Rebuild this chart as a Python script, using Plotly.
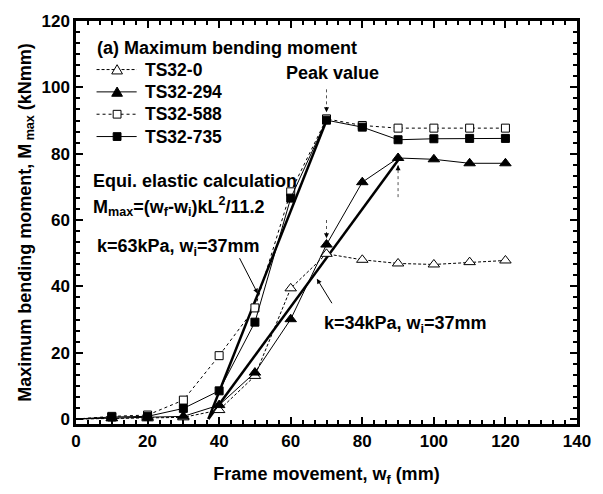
import plotly.graph_objects as go

# ---- data ----
frame_movement = [0, 10, 20, 30, 40, 50, 60, 70, 80, 90, 100, 110, 120]
ts32_0   = [0, 0.2, 0.2, 0.5, 2.7, 13.0, 39.4, 49.8, 48.0, 46.9, 46.6, 47.3, 47.8]
ts32_294 = [0, 0.3, 0.5, 0.8, 4.2, 14.0, 30.1, 52.6, 71.4, 78.7, 78.3, 77.1, 77.1]
ts32_588 = [0, 0.8, 1.2, 5.7, 19.1, 33.5, 68.5, 90.5, 88.5, 87.7, 87.7, 87.7, 87.7]
ts32_735 = [0, 0.6, 0.8, 3.2, 8.5, 29.2, 66.6, 90.1, 88.0, 84.2, 84.5, 84.6, 84.6]
series_names = ["TS32-0", "TS32-294", "TS32-588", "TS32-735"]

calc63_x = [37, 70]
calc63_y = [0, 90]
calc34_x = [37, 90]
calc34_y = [0, 78]

x_ticks = [0, 20, 40, 60, 80, 100, 120, 140]
y_ticks = [0, 20, 40, 60, 80, 100, 120]

FONT = "Liberation Sans, Arial, sans-serif"

# plot-area geometry in pixels (for placing text / legend)
L, R, T, B = 76, 588, 12, 427
W, H = 603, 494
def px(x):
    return (x - L) / (R - L)
def py(y):
    return (B - y) / (B - T)

# no marker drawn at the origin point (hidden behind the axis in the reference)
def sizes(s):
    return [0 if xv == 0 else s for xv in frame_movement]

fig = go.Figure()

fig.add_trace(go.Scatter(x=calc63_x, y=calc63_y, mode="lines",
                         line=dict(color="black", width=2.5), showlegend=False))
fig.add_trace(go.Scatter(x=calc34_x, y=calc34_y, mode="lines",
                         line=dict(color="black", width=2.5), showlegend=False))

styles = [
    dict(dash="3px,2px", symbol="triangle-up", fill="white", size=10),
    dict(dash="solid",   symbol="triangle-up", fill="black", size=10),
    dict(dash="dot",     symbol="square",      fill="white", size=8),
    dict(dash="solid",   symbol="square",      fill="black", size=8),
]
series = [ts32_0, ts32_294, ts32_588, ts32_735]
for name, yv, st in zip(series_names, series, styles):
    fig.add_trace(go.Scatter(x=frame_movement, y=yv, name=name, mode="lines+markers",
                             showlegend=False,
                             line=dict(color="black", width=1, dash=st["dash"]),
                             marker=dict(symbol=st["symbol"], size=sizes(st["size"]),
                                         opacity=1, color=st["fill"],
                                         line=dict(color="black", width=1))))

bold = dict(family=FONT, size=18, color="black", weight="bold")

# ---- hand-made legend (to match the tight row spacing) ----
rows = [62, 85, 108, 131]
for name, st, ry in zip(series_names, styles, rows):
    fig.add_shape(type="line", xref="paper", yref="paper",
                  x0=px(97), x1=px(138), y0=py(ry), y1=py(ry),
                  line=dict(color="black", width=1, dash=st["dash"]))
    cx = 118
    if st["symbol"] == "triangle-up":
        path = (f"M{px(cx-5.5)},{py(ry+4.5)} L{px(cx+5.5)},{py(ry+4.5)} "
                f"L{px(cx)},{py(ry-5)} Z")
        fig.add_shape(type="path", xref="paper", yref="paper", path=path,
                      fillcolor=st["fill"], line=dict(color="black", width=1))
    else:
        fig.add_shape(type="rect", xref="paper", yref="paper",
                      x0=px(cx-4), x1=px(cx+4), y0=py(ry+4), y1=py(ry-4),
                      fillcolor=st["fill"], line=dict(color="black", width=1))
    fig.add_annotation(xref="paper", yref="paper", x=px(144), y=py(ry), text=name,
                       xanchor="left", yanchor="middle", showarrow=False,
                       font=dict(family=FONT, size=17.5, color="black", weight="bold"))

annos = [
    dict(x=px(95), y=py(40), text="(a) Maximum bending moment"),
    dict(x=px(91), y=py(177), text="Equi. elastic calculation"),
    dict(x=px(91), y=py(203), text="M<sub>max</sub>=(w<sub>f</sub>-w<sub>i</sub>)kL<sup>2</sup>/11.2"),
    dict(x=px(95), y=py(245), text="k=63kPa, w<sub>i</sub>=37mm"),
    dict(x=px(327), y=py(325), text="k=34kPa, w<sub>i</sub>=37mm"),
]
for a in annos:
    fig.add_annotation(xref="paper", yref="paper", xanchor="left", yanchor="middle",
                       showarrow=False, font=bold, **a)

fig.add_annotation(xref="paper", yref="paper", x=px(338), y=py(66), text="Peak value",
                   showarrow=False, font=bold, xanchor="center", yanchor="middle")

# arrows pointing to the elastic lines
fig.add_annotation(x=50.8, y=37.8, ax=-19, ay=-37, text="", showarrow=True,
                   arrowhead=2, arrowsize=1, arrowwidth=1, arrowcolor="black")
fig.add_annotation(x=67.3, y=42.3, ax=16, ay=26, text="", showarrow=True,
                   arrowhead=2, arrowsize=1, arrowwidth=1, arrowcolor="black")

# dotted indicator arrows
for (x0, y0, y1) in [(70, 99.4, 92.5), (90, 66.9, 76.5), (70, 60.0, 54.5)]:
    fig.add_shape(type="line", x0=x0, x1=x0, y0=y0, y1=y1,
                  line=dict(color="#555555", width=1, dash="dot"))
    fig.add_annotation(x=x0, y=y1, ax=x0, ay=y1 + (2.0 if y0 > y1 else -2.0),
                       axref="x", ayref="y", text="", showarrow=True,
                       arrowhead=2, arrowsize=1, arrowwidth=1, arrowcolor="black")

axis_common = dict(showline=True, linecolor="black", linewidth=2.5, mirror="ticks",
                   ticks="inside", ticklen=7, tickwidth=2, tickcolor="black",
                   showgrid=False, zeroline=False,
                   tickfont=dict(family=FONT, size=17, color="black", weight="bold"))
minor_common = dict(dtick=20 / 6, tick0=0, ticks="inside", ticklen=4, tickwidth=1.5,
                    tickcolor="black", showgrid=False)

fig.update_xaxes(range=[0, 140], tickvals=x_ticks, minor=minor_common,
                 title=dict(text="Frame movement, w<sub>f</sub> (mm)",
                            font=dict(family=FONT, size=18, color="black", weight="bold"),
                            standoff=18),
                 **axis_common)
fig.update_yaxes(range=[-1.5, 120], tickvals=y_ticks, minor=minor_common,
                 title=dict(text="Maximum bending moment, M<sub> max</sub> (kNmm)",
                            font=dict(family=FONT, size=18, color="black", weight="bold"),
                            standoff=6),
                 **axis_common)

fig.update_layout(
    width=W, height=H,
    margin=dict(l=L, r=W - R, t=T, b=H - B),
    paper_bgcolor="white", plot_bgcolor="white",
    font=dict(family=FONT, color="black"),
    showlegend=False,
)

fig.write_html("out.html")
